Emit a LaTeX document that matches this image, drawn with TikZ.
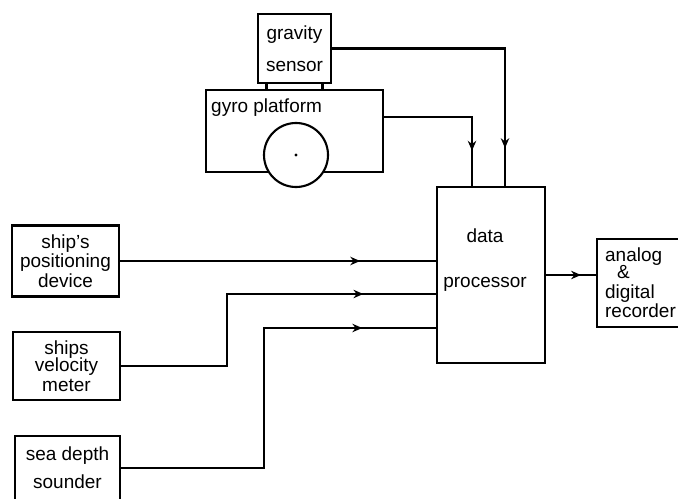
\documentclass[tikz,border=0pt]{standalone}
\usepackage{fontspec}
\setmainfont{Liberation Sans}
\usetikzlibrary{
  arrows.meta,
  decorations.markings
}

\begin{document}
\begin{tikzpicture}[
  x=0.025cm, y=-0.025cm,
  every node/.style={font=\fontsize{13.5}{14}\selectfont},
  unit/.style={draw, line width=1.5pt, inner sep=0pt, align=center},
  wire/.style={line width=1.5pt},
  arrowat/.style={postaction={decorate, decoration={markings,
    mark=at position #1 with {\arrow{Stealth[length=7pt, width=6pt]}}}}}
]
  \useasboundingbox (0,0) rectangle (678,499);

  % Sensors on top
  \node[unit, minimum width=1.825cm, minimum height=1.725cm] (grav) at (294.5,48.5) {gravity\\[9pt]sensor};
  \node[unit, minimum width=4.425cm, minimum height=2.05cm,
        label={[anchor=north west, inner sep=0pt, xshift=0.15cm, yshift=-0.25cm]north west:gyro platform}] (gyro) at (294.5,131) {};
  \node[unit, circle, fill=white, minimum size=1.6cm] (wheel) at (296,155) {};
  \fill (wheel.center) circle (1.2pt);
  \draw[wire] (grav.south) ++(-28,0) -- ++(0,7);
  \draw[wire] (grav.south) ++(28,0) -- ++(0,7);

  % Processor and recorder
  \node[unit, minimum width=2.7cm, minimum height=4.4cm,
        label={[align=center, xshift=-0.15cm, yshift=0.375cm]center:data\\[18pt]processor}] (proc) at (491,275) {};
  \node[unit, align=left, minimum width=2.175cm, minimum height=2.2cm] (rec) at (640.5,283)
    {analog\\[-2pt]\hspace*{0.3cm}\&\\digital\\recorder};

  % Ship inputs
  \node[unit, minimum width=2.675cm, minimum height=1.775cm] (pos) at (65.5,261) {ship's\\positioning\\device};
  \node[unit, minimum width=2.675cm, minimum height=1.7cm] (vel) at (66.5,366) {ships\\[-2pt]velocity\\meter};
  \node[unit, minimum width=2.625cm, minimum height=1.6cm] (depth) at (67.5,468) {sea depth\\[6pt]sounder};

  % Entry points on the processor
  \coordinate (gravin) at (505,187);
  \coordinate (gyroin) at (472,187);
  \coordinate (velin) at (437,294);
  \coordinate (depthin) at (437,328);

  % Connections
  \draw[wire, arrowat=0.875] (grav.east) -| (gravin);
  \draw[wire, arrowat=0.77] ([yshift=0.35cm]gyro.east) -| (gyroin);
  \draw[wire, arrowat=0.76] (pos.east) -- (pos.east -| proc.west);
  \draw[wire, arrowat=0.81] (vel.east) -- ++(106,0) |- (velin);
  \draw[wire, arrowat=0.836] (depth.east) -- ++(143,0) |- (depthin);
  \draw[wire, arrowat=0.7] (proc.east) -- (proc.east -| rec.west);
\end{tikzpicture}
\end{document}
